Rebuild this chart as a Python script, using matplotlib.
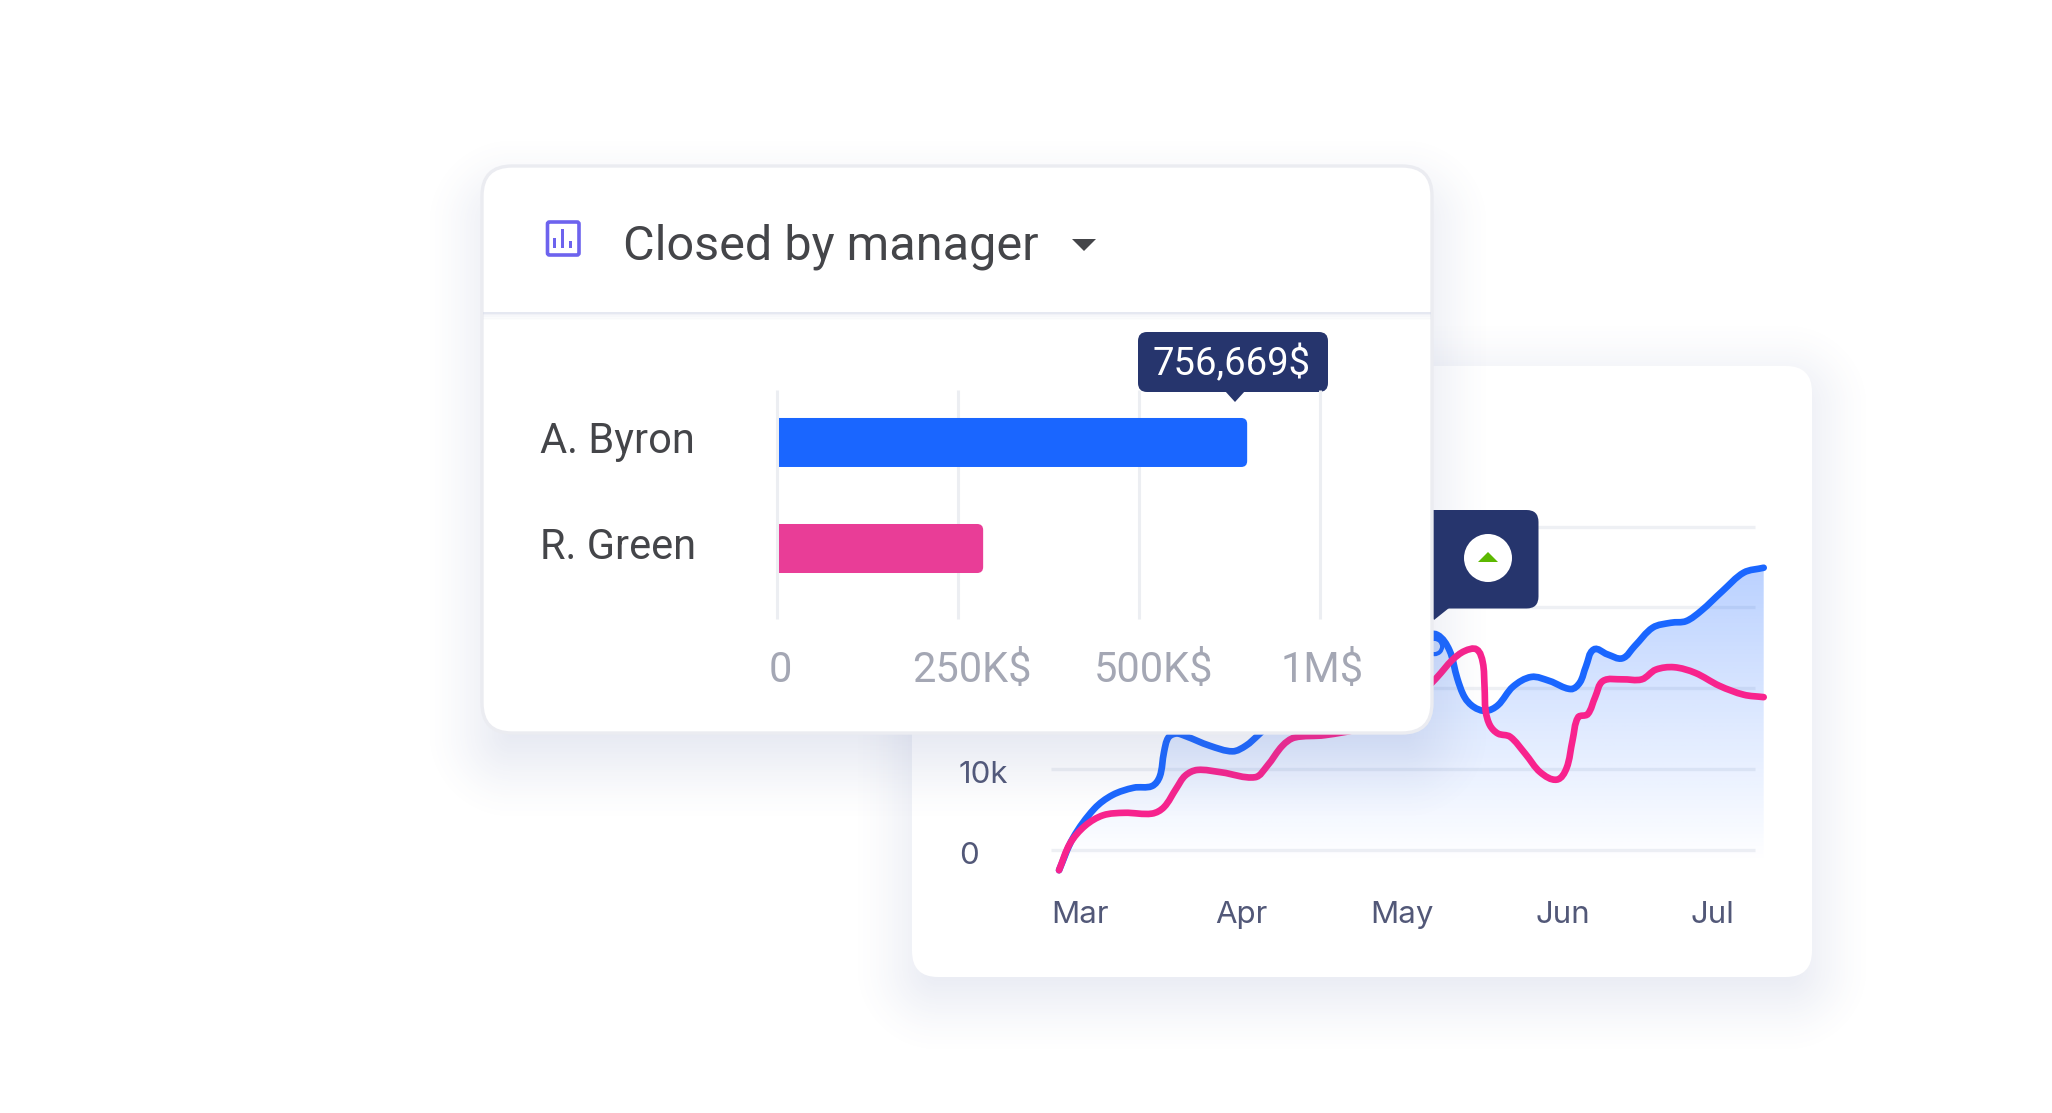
#!/usr/bin/env python3
"""Dashboard mock-up: closed-by-manager bar card over a monthly line chart card."""

import numpy as np
import matplotlib
matplotlib.use("Agg")
import matplotlib.pyplot as plt
from matplotlib.patches import FancyBboxPatch, Polygon, Circle, PathPatch, Rectangle
from matplotlib.path import Path
from matplotlib.transforms import ScaledTranslation

W, H = 2052, 1113

# bar card
managers = ["A. Byron", "R. Green"]
closed_k = [650, 285]
bar_ticks = [0, 250, 500, 750]
bar_tick_labels = ["0", "250K$", "500K$", "1M$"]
bar_tooltip = "756,669$"

# line card: x in months since Mar, y in thousands
month_labels = ["Mar", "Apr", "May", "Jun", "Jul"]
month_ticks = [0, 1, 2, 3, 3.93]
value_ticks = [0, 10, 20, 30, 40]
value_labels = ["0", "10k", "20k", "30k", "40k"]

blue_x = [-0.13, -0.043, 0.089, 0.202, 0.334, 0.447, 0.496, 0.522, 0.549, 0.598, 0.654, 0.805,
          0.948, 1.031, 1.107, 1.295, 1.52, 1.75, 1.97, 2.125, 2.22, 2.295, 2.344, 2.389,
          2.445, 2.52, 2.596, 2.69, 2.804, 2.917, 3.049, 3.105, 3.143, 3.192, 3.275, 3.369,
          3.445, 3.558, 3.671, 3.765, 3.86, 3.99, 4.123, 4.247]
blue_y = [-2.5, 1.5, 5.1, 6.8, 7.7, 7.9, 9.1, 12.1, 13.9, 14.4, 14.1, 12.9,
          12.2, 12.9, 14.2, 17.7, 20.2, 22.2, 25.2, 26.5, 26.6, 24.7, 21.2, 18.9,
          17.7, 17.2, 17.9, 20.2, 21.4, 20.9, 19.9, 20.7, 22.7, 24.8, 24.2, 23.7,
          25.2, 27.5, 28.1, 28.3, 29.6, 32.0, 34.3, 34.9]
pink_x = [-0.13, -0.062, 0.032, 0.145, 0.277, 0.447, 0.522, 0.598, 0.654, 0.73, 0.88, 1.088,
          1.163, 1.258, 1.333, 1.521, 1.75, 1.97, 2.16, 2.22, 2.313, 2.389, 2.464, 2.502,
          2.513, 2.52, 2.547, 2.596, 2.672, 2.766, 2.86, 2.962, 3.022, 3.06, 3.094, 3.154,
          3.2, 3.249, 3.369, 3.49, 3.577, 3.69, 3.822, 3.972, 4.123, 4.247]
pink_y = [-2.5, 0.8, 3.0, 4.3, 4.6, 4.5, 5.3, 7.6, 9.2, 9.9, 9.6, 9.0,
          10.4, 12.9, 13.9, 14.2, 15.1, 17.2, 20.2, 21.4, 23.5, 24.6, 24.8, 23.2,
          20.2, 17.2, 15.4, 14.4, 14.0, 11.9, 9.6, 8.7, 10.1, 13.6, 16.4, 16.8,
          18.9, 20.9, 21.1, 21.1, 22.3, 22.6, 21.9, 20.3, 19.2, 18.9]
marker_x = [2.2]
marker_y = [25.2]

NAVY = "#26356d"
BLUE = "#1a66ff"
PINK_LINE = "#f8238d"
PINK_BAR = "#e93d97"
GRID = "#eceef2"
TEXT_DARK = "#444549"
TEXT_SLATE = "#525878"
TEXT_GREY = "#a4a7b4"


def px_axes(fig, left, top, right, bottom, zorder):
    return fig.add_axes([left / W, 1 - bottom / H, (right - left) / W, (bottom - top) / H],
                        zorder=zorder, facecolor="none")


def shadow(ax, box, radius, blur, strength, color=(0.36, 0.43, 0.66), zorder=1):
    # soft rounded-rect shadow from a signed distance field
    l, t, r, b = box
    yy, xx = np.mgrid[0:H, 0:W]
    cx, cy = (l + r) / 2, (t + b) / 2
    qx = np.abs(xx + 0.5 - cx) - ((r - l) / 2 - radius)
    qy = np.abs(yy + 0.5 - cy) - ((b - t) / 2 - radius)
    d = np.hypot(np.maximum(qx, 0), np.maximum(qy, 0)) + np.minimum(np.maximum(qx, qy), 0) - radius
    s = np.clip((blur - d) / (2 * blur), 0, 1)
    alpha = strength * s * s * (3 - 2 * s)
    img = np.zeros((H, W, 4))
    img[..., 0], img[..., 1], img[..., 2] = color
    img[..., 3] = alpha
    ax.imshow(img, extent=(0, W, H, 0), aspect="auto", zorder=zorder, interpolation="bilinear")


def round_box(ax, l, t, r, b, radius, **kw):
    box = FancyBboxPatch((l, t), r - l, b - t, boxstyle=f"round,pad=0,rounding_size={radius}", **kw)
    ax.add_patch(box)
    return box


def smooth_path(ax, xs, ys):
    # bezier through the read points, tangents worked out in screen space
    pts = ax.transData.transform(np.column_stack([xs, ys]))
    n = len(pts)
    verts = [pts[0]]
    codes = [Path.MOVETO]
    tang = np.zeros_like(pts)
    for i in range(n):
        a = pts[max(i - 1, 0)]
        c = pts[min(i + 1, n - 1)]
        tang[i] = (c - a) / np.hypot(*(c - a))
    for i in range(n - 1):
        seg = np.hypot(*(pts[i + 1] - pts[i])) / 3
        verts += [pts[i] + tang[i] * seg, pts[i + 1] - tang[i + 1] * seg, pts[i + 1]]
        codes += [Path.CURVE4] * 3
    return ax.transData.inverted().transform(np.array(verts)), codes


def nudge(labels, fig, dx=0, dy=0):
    for lab in labels:
        lab.set_transform(lab.get_transform() + ScaledTranslation(dx / 100, dy / 100, fig.dpi_scale_trans))


def main():
    plt.rcParams["font.family"] = ["Roboto", "DejaVu Sans"]
    fig = plt.figure(figsize=(W / 100, H / 100), dpi=100, facecolor="white")

    # back layer: line card and its shadow
    bg = px_axes(fig, 0, 0, W, H, 0)
    shadow(bg, (912, 380, 1812, 995), 26, 66, 0.18)
    round_box(bg, 912, 366, 1812, 977, 26, facecolor="white", edgecolor="none", zorder=2)
    bg.set_xlim(0, W)
    bg.set_ylim(H, 0)
    bg.axis("off")

    # line chart
    ax = px_axes(fig, 1050.5, 526.5, 1755, 850, 1)
    ax.set_xlim(-0.183, 4.193)
    ax.set_ylim(0, 40)
    for s in ax.spines.values():
        s.set_visible(False)
    ax.set_xticks(month_ticks, month_labels, fontfamily="Inter", fontsize=22.5, color=TEXT_SLATE)
    ax.set_yticks(value_ticks, value_labels, fontfamily="Inter", fontsize=22.5, color=TEXT_SLATE)
    ax.tick_params(axis="both", length=0)
    ax.tick_params(axis="x", pad=37)
    ax.tick_params(axis="y", pad=66)
    for lab in ax.get_yticklabels():
        lab.set_ha("left")
    nudge(ax.get_yticklabels(), fig, dy=-3)
    ax.grid(axis="y", color="#eef0f4", lw=2.4, zorder=1)
    for gl in ax.get_ygridlines():
        gl.set_clip_on(False)
        gl.set_solid_capstyle("butt")
    ax.set_axisbelow(True)

    blue_v, blue_c = smooth_path(ax, blue_x, blue_y)
    pink_v, pink_c = smooth_path(ax, pink_x, pink_y)

    # gradient area under the blue line
    grad = np.zeros((256, 2, 4))
    grad[..., 0], grad[..., 1], grad[..., 2] = 0.10, 0.40, 1.0
    grad[..., 3] = np.linspace(0.30, 0.0, 256)[:, None]
    im = ax.imshow(grad, extent=(blue_x[0], blue_x[-1], -1.5, blue_y[-1]), aspect="auto",
                   origin="upper", zorder=2)
    area_v = np.vstack([blue_v, [[blue_x[-1], -1.5], [blue_x[0], -1.5], blue_v[0]]])
    area_c = blue_c + [Path.LINETO, Path.LINETO, Path.CLOSEPOLY]
    area = PathPatch(Path(area_v, area_c), transform=ax.transData, facecolor="none", edgecolor="none")
    ax.add_patch(area)
    im.set_clip_path(area)
    im.set_clip_box(fig.bbox)
    ax.set_xlim(-0.183, 4.193)
    ax.set_ylim(0, 40)

    ax.add_patch(PathPatch(Path(blue_v, blue_c), facecolor="none", edgecolor=BLUE, lw=4.8,
                           capstyle="round", clip_on=False, zorder=3))
    ax.plot(marker_x, marker_y, "o", ms=11, mfc="#c6d8fb", mec=BLUE, mew=3, clip_on=False, zorder=3)
    ax.add_patch(PathPatch(Path(pink_v, pink_c), facecolor="none", edgecolor=PINK_LINE, lw=4.8,
                           capstyle="round", clip_on=False, zorder=4))

    # front layer: tooltip, bar card
    fg = px_axes(fig, 0, 0, W, H, 2)
    shadow(fg, (484, 195, 1432, 762), 28, 66, 0.18, zorder=1)

    round_box(fg, 1380, 510, 1538.5, 608.5, 12, facecolor=NAVY, edgecolor="none", zorder=2)
    fg.add_patch(Polygon([(1425, 608), (1449, 608), (1434, 620)], facecolor=NAVY, edgecolor="none", zorder=2))
    fg.add_patch(Circle((1488, 558), 24, facecolor="white", edgecolor="none", zorder=2.5))
    fg.add_patch(Polygon([(1478, 562), (1498, 562), (1488, 552)], facecolor="#5cb800", edgecolor="none", zorder=2.6))

    round_box(fg, 482, 166, 1432, 733, 30, facecolor="white", edgecolor="#ebecf1", lw=2.4, zorder=3)
    # header divider with a faint blur underneath
    for i, a in enumerate([0.6, 0.35, 0.2, 0.1, 0.05]):
        fg.add_patch(Rectangle((483, 312 + i * 1.6), 948, 1.8, facecolor="#d5d9e8", edgecolor="none",
                               alpha=a, zorder=3.1))

    # icon and caret
    round_box(fg, 547.5, 222, 579, 255, 2, facecolor="none", edgecolor="#6d63ee", lw=2.6, zorder=4)
    for bx_l, bt in [(553, 238), (561, 229), (569, 241)]:
        fg.add_patch(Rectangle((bx_l, bt), 3.4, 248 - bt, facecolor="#6d63ee", edgecolor="none", zorder=4))
    fg.add_patch(Polygon([(1072, 239), (1096, 239), (1084, 251)], facecolor=TEXT_DARK, edgecolor="none", zorder=4))

    fg.text(623, 260, "Closed by manager", fontsize=35, color=TEXT_DARK, ha="left", va="baseline", zorder=4)

    # value tooltip
    round_box(fg, 1138, 332, 1328, 392, 9, facecolor=NAVY, edgecolor="none", zorder=4)
    fg.add_patch(Polygon([(1225, 391), (1245, 391), (1235, 402)], facecolor=NAVY, edgecolor="none", zorder=4))
    fg.text(1232, 364, bar_tooltip, fontsize=27.5, color="white", ha="center", va="center", zorder=4.5)

    fg.set_xlim(0, W)
    fg.set_ylim(H, 0)
    fg.axis("off")

    # bar chart
    bx = px_axes(fig, 777, 390, 1319.5, 619, 3)
    y_pos = [0, 1]
    bx.set_xlim(0, 750)
    bx.set_ylim(1.665, -0.495)
    for s in bx.spines.values():
        s.set_visible(False)
    bx.set_xticks(bar_ticks, bar_tick_labels, fontsize=30, color=TEXT_GREY)
    bx.set_yticks(y_pos, managers, fontsize=30, color=TEXT_DARK)
    bx.tick_params(axis="both", length=0)
    bx.tick_params(axis="x", pad=22)
    bx.tick_params(axis="y", pad=171)
    for lab in bx.get_yticklabels():
        lab.set_ha("left")
    nudge(bx.get_yticklabels(), fig, dy=5)
    for lab, dx in zip(bx.get_xticklabels(), [3.8, 14, 14.7, 3]):
        nudge([lab], fig, dx=dx)
    bx.grid(axis="x", color=GRID, lw=2.2)
    for gl in bx.get_xgridlines():
        gl.set_clip_on(False)
        gl.set_solid_capstyle("butt")
    bx.set_axisbelow(True)

    # rounded right-hand bar ends, square at the axis
    for y, v, col in zip(y_pos, closed_k, [BLUE, PINK_BAR]):
        x0 = 2 / 542.5 * 750
        h = 49 / 106
        r_x, r_y = 6 / 542.5 * 750, 6 / 106
        verts = [(x0, y - h / 2), (v - r_x, y - h / 2), (v, y - h / 2), (v, y - h / 2 + r_y),
                 (v, y + h / 2 - r_y), (v, y + h / 2), (v - r_x, y + h / 2), (x0, y + h / 2), (x0, y - h / 2)]
        codes = [Path.MOVETO, Path.LINETO, Path.CURVE3, Path.CURVE3, Path.LINETO, Path.CURVE3, Path.CURVE3,
                 Path.LINETO, Path.CLOSEPOLY]
        bx.add_patch(PathPatch(Path(verts, codes), facecolor=col, edgecolor="none", zorder=3))

    fig.savefig("out.png", dpi=100)


if __name__ == "__main__":
    main()
